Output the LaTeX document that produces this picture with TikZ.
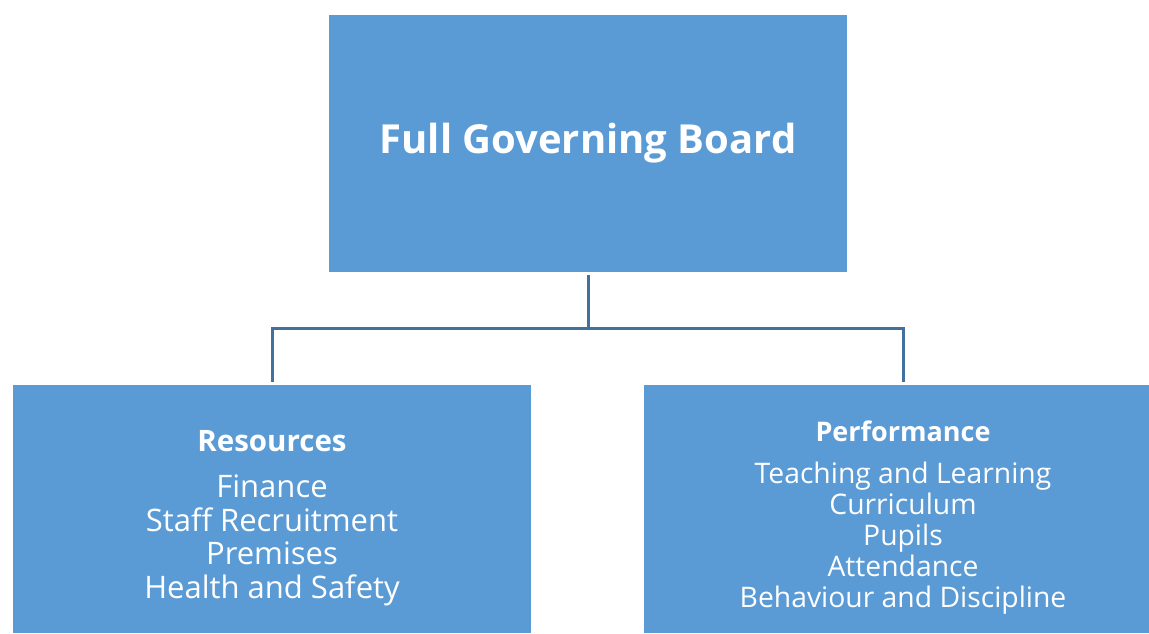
\documentclass[tikz,border=0pt]{standalone}
\usepackage{fontspec}
\setmainfont{Open Sans}
\usetikzlibrary{positioning}
\definecolor{boxblue}{HTML}{5B9BD5}
\definecolor{linkblue}{HTML}{41719C}
\begin{document}
\begin{tikzpicture}[x=1pt, y=-1pt,
    box/.style={fill=boxblue, text=white, minimum width=518pt, inner sep=0pt, align=center},
    boxtext/.style={text=white, inner sep=0pt, align=center},
    link/.style={draw=linkblue, line width=3pt, shorten <=3pt, shorten >=3pt}]
\useasboundingbox (0,0) rectangle (1149,634);

\node[box, minimum height=257pt, font=\fontsize{40}{46}\selectfont\bfseries] (board) at (588,143.5) {Full Governing Board};

\node[box, minimum height=248pt] (resources) at (272,509) {};
\node[box, minimum height=248pt] (performance) at (903,509) {};

\node[boxtext, font=\fontsize{31}{33.5}\selectfont] (resources text) at ([yshift=-9pt]resources.center)
  {{\fontsize{29.5}{33.5}\selectfont\bfseries Resources}\\[12.5pt]
   Finance\\ Staff Recruitment\\ Premises\\ Health and Safety};
\node[boxtext, font=\fontsize{28.3}{31}\selectfont] (performance text) at ([yshift=-9pt]performance.center)
  {{\fontsize{27}{31}\selectfont\bfseries Performance}\\[11pt]
   Teaching and Learning\\ Curriculum\\ Pupils\\ Attendance\\ Behaviour and Discipline};

\coordinate (split) at (588,328);

\path[link] (board.south) -- (split) -| (resources.north);
\path[link] (board.south) -- (split) -| (performance.north);
\end{tikzpicture}
\end{document}
